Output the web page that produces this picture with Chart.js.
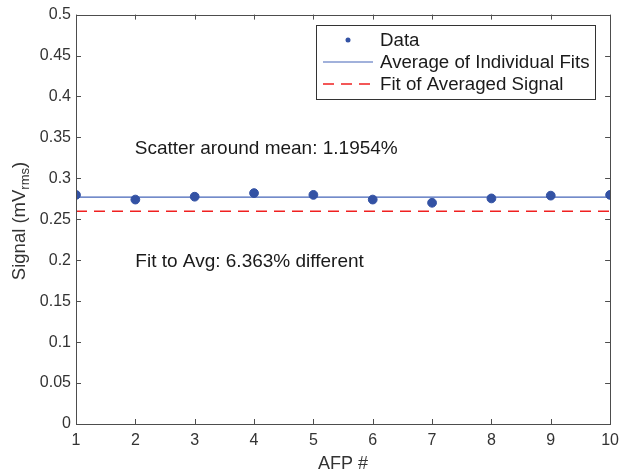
<!DOCTYPE html>
<html><head><meta charset="utf-8">
<script src="https://cdn.jsdelivr.net/npm/chart.js@4/dist/chart.umd.min.js"></script>
<style>html,body{margin:0;padding:0;background:#fff}canvas{display:block}</style>
</head><body>
<canvas id="c" width="626" height="472"></canvas>
<script>
const afpNumbers = [1,2,3,4,5,6,7,8,9,10];
const signalData = [0.2798,0.2741,0.2776,0.2820,0.2798,0.2741,0.2702,0.2755,0.2789,0.2798];
const avgIndividualFits = 0.2772;
const fitAveragedSignal = 0.2598;
const yTicks = [0,0.05,0.1,0.15,0.2,0.25,0.3,0.35,0.4,0.45,0.5];
const xTicks = [1,2,3,4,5,6,7,8,9,10];
const seriesNames = ['Data','Average of Individual Fits','Fit of Averaged Signal'];
const notes = [
  {x: 1.99, y: 0.3366, text: 'Scatter around mean: 1.1954%'},
  {x: 2.0, y: 0.1976, text: 'Fit to Avg: 6.363% different'}
];

const FONT = '"Liberation Sans", Arial, Helvetica, sans-serif';
const AX = '#4d4d4d';
const TXT = '#333333';

const decorPlugin = {
  id: 'decor',
  afterDatasetsDraw(chart) {
    const ctx = chart.ctx, ca = chart.chartArea;
    const xs = chart.scales.x, ys = chart.scales.y;
    ctx.save();
    ctx.strokeStyle = AX; ctx.lineWidth = 1;
    ctx.strokeRect(Math.round(ca.left)+0.5, Math.round(ca.top)+0.5, Math.round(ca.right-ca.left), Math.round(ca.bottom-ca.top));
    const tl = 5;
    ctx.beginPath();
    xTicks.forEach(v => {
      const px = Math.round(xs.getPixelForValue(v))+0.5;
      ctx.moveTo(px, ca.bottom); ctx.lineTo(px, ca.bottom - tl);
      ctx.moveTo(px, ca.top); ctx.lineTo(px, ca.top + tl);
    });
    yTicks.forEach(v => {
      const py = Math.round(ys.getPixelForValue(v))+0.5;
      ctx.moveTo(ca.left, py); ctx.lineTo(ca.left + tl, py);
      ctx.moveTo(ca.right, py); ctx.lineTo(ca.right - tl, py);
    });
    ctx.stroke();
    // annotations
    ctx.fillStyle = '#1a1a1a';
    ctx.font = '19px ' + FONT;
    ctx.textBaseline = 'middle'; ctx.textAlign = 'left';
    notes.forEach(n => ctx.fillText(n.text, xs.getPixelForValue(n.x), ys.getPixelForValue(n.y)));
    // legend
    const lx = 316, ly = 25, lw = 279, lh = 74;
    ctx.fillStyle = '#fff';
    ctx.fillRect(lx, ly, lw, lh);
    ctx.strokeStyle = '#333'; ctx.lineWidth = 1;
    ctx.strokeRect(lx+0.5, ly+0.5, lw, lh);
    ctx.font = '18.7px ' + FONT;
    const rows = [40, 62, 84];
    chart.data.datasets.forEach((ds, i) => {
      const y = rows[i];
      if (i === 0) {
        ctx.beginPath(); ctx.fillStyle = ds.backgroundColor;
        ctx.arc(348, y, 2.5, 0, Math.PI*2); ctx.fill();
      } else {
        ctx.beginPath(); ctx.strokeStyle = ds.borderColor; ctx.lineWidth = ds.borderWidth;
        ctx.setLineDash(ds.borderDash || []);
        ctx.moveTo(323, y); ctx.lineTo(373, y); ctx.stroke();
        ctx.setLineDash([]);
      }
      ctx.fillStyle = '#1a1a1a';
      ctx.fillText(ds.label, 380, y + 1);
    });
    // y title with subscript
    ctx.save();
    ctx.translate(20, 221);
    ctx.rotate(-Math.PI/2);
    ctx.fillStyle = TXT;
    ctx.textBaseline = 'middle';
    const p1 = 'Signal (mV', p2 = 'rms', p3 = ')';
    ctx.font = '18.5px ' + FONT; const w1 = ctx.measureText(p1).width, w3 = ctx.measureText(p3).width;
    ctx.font = '13px ' + FONT; const w2 = ctx.measureText(p2).width;
    let x0 = -(w1+w2+w3)/2;
    ctx.font = '18.5px ' + FONT; ctx.textAlign='left';
    ctx.fillText(p1, x0, 0);
    ctx.font = '13px ' + FONT; ctx.fillText(p2, x0+w1, 5);
    ctx.font = '18.5px ' + FONT; ctx.fillText(p3, x0+w1+w2, 0);
    ctx.restore();
    ctx.restore();
  }
};

new Chart(document.getElementById('c'), {
  type: 'scatter',
  data: {
    datasets: [
      { label: seriesNames[0], data: afpNumbers.map((x,i)=>({x, y: signalData[i]})),
        backgroundColor: '#3352a4', borderColor: '#3352a4', pointRadius: 4.4, pointHoverRadius: 4.4, showLine: false, order: 0 },
      { label: seriesNames[1], data: [{x: afpNumbers[0], y: avgIndividualFits},{x: afpNumbers[afpNumbers.length-1], y: avgIndividualFits}],
        borderColor: '#4465b8', backgroundColor: '#4465b8', borderWidth: 1.2, showLine: true, pointRadius: 0, order: 2 },
      { label: seriesNames[2], data: [{x: afpNumbers[0], y: fitAveragedSignal},{x: afpNumbers[afpNumbers.length-1], y: fitAveragedSignal}],
        borderColor: '#f02020', backgroundColor: '#f02020', borderWidth: 1.6, borderDash: [11,7], showLine: true, pointRadius: 0, order: 3 }
    ]
  },
  options: {
    responsive: false, animation: false,
    layout: { padding: { left: 0, right: 13, top: 14, bottom: 0 } },
    plugins: { legend: { display: false }, tooltip: { enabled: false } },
    scales: {
      x: {
        type: 'linear', min: 1, max: 10,
        afterBuildTicks: s => { s.ticks = xTicks.map(v => ({value: v})); },
        afterFit: s => { s.height = 48; },
        grid: { display: false, drawTicks: false }, border: { display: false },
        ticks: { color: TXT, font: { family: FONT, size: 16 }, padding: 7, maxRotation: 0 },
        title: { display: true, text: 'AFP #', color: TXT, font: { family: FONT, size: 18 }, padding: { top: 0, bottom: -3 } }
      },
      y: {
        type: 'linear', min: 0, max: 0.5,
        afterBuildTicks: s => { s.ticks = yTicks.map(v => ({value: v})); },
        afterFit: s => { s.width = 76; },
        grid: { display: false, drawTicks: false }, border: { display: false },
        ticks: { color: TXT, font: { family: FONT, size: 16 }, padding: 5, callback: v => String(+v.toFixed(2)) },
        title: { display: false }
      }
    }
  },
  plugins: [decorPlugin]
});
</script>
</body></html>
